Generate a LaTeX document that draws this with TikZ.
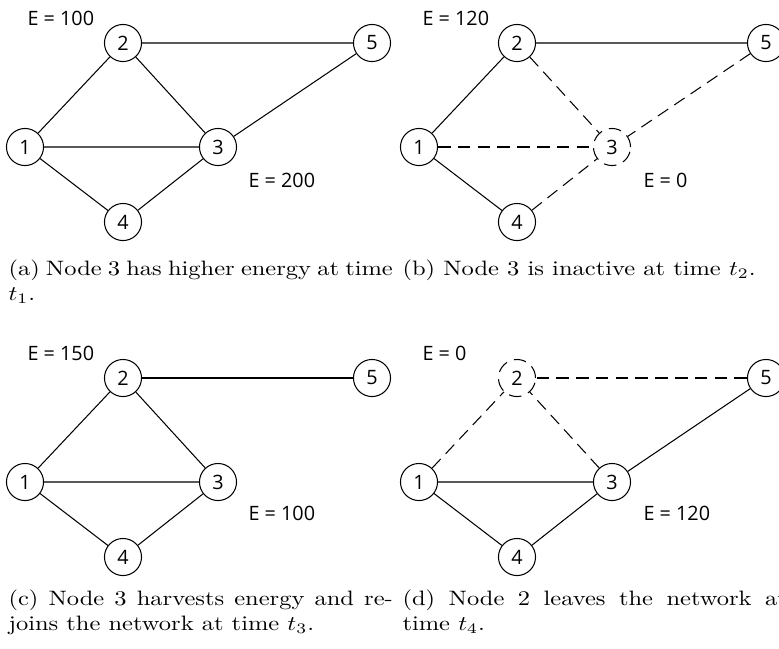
\documentclass[tikz,border=0pt]{standalone}
\usepackage{amsmath}
\usepackage{fontspec}
\usepackage{tikz}
\newfontfamily\graphfont{Open Sans}
\newcommand{\subcap}[1]{\scalebox{1.175}[1]{\parbox[t]{157pt}{#1}}}
\tikzset{
  vertex/.style={draw, circle, inner sep=0pt, minimum size=17.8pt,
    font=\graphfont\fontsize{9.5}{11}\selectfont},
  offvertex/.style={vertex, dash pattern=on 6pt off 3.5pt},
  offedge/.style={dash pattern=on 6pt off 3.5pt},
  energy/.style={anchor=west, inner sep=0pt,
    font=\graphfont\fontsize{9.5}{11}\selectfont},
  caption/.style={anchor=north west, inner sep=0pt}
}

\begin{document}
\begin{tikzpicture}[x=0.48pt,y=-0.48pt,line width=0.5pt]
  \useasboundingbox (0,0) rectangle (779,648);
  % Draw the vertices of the four panels (inactive one dashed)
  \foreach \panel/\dx/\dy/\offnode in {a/0/0/0, b/394/0/3, c/0/335/0, d/394/335/2} {
    \begin{scope}[shift={(\dx,\dy)}]
      \foreach \n/\x/\y in {1/25/147, 2/123/43, 3/218/147, 4/123/222, 5/372/43} {
        \ifnum\n=\offnode \def\vstyle{offvertex}\else \def\vstyle{vertex}\fi
        \node[\vstyle] (\panel\n) at (\x, \y) {\n}; }
    \end{scope}
  }
  % Draw links of (a)
    \draw (a1) -- (a2) -- (a3) -- (a1) -- (a4) -- (a3) -- (a5) -- (a2);
  % Draw links of (b)
    \draw (b4) -- (b1) -- (b2) -- (b5);
    \draw[offedge] (b1) -- (b3);
    \draw[offedge] (b2) -- (b3);
    \draw[offedge] (b4) -- (b3);
    \draw[offedge] (b5) -- (b3);
  % Draw links of (c)
    \draw (c1) -- (c2) -- (c3) -- (c1) -- (c4) -- (c3);
    \draw (c2) -- (c5);
  % Draw links of (d)
    \draw (d1) -- (d3) -- (d4) -- (d1);
    \draw (d3) -- (d5);
    \draw[offedge] (d1) -- (d2);
    \draw[offedge] (d3) -- (d2);
    \draw[offedge] (d5) -- (d2);
  % Energy labels
    \node[energy] (ea) at (27, 18) {E = 100};
    \node[energy] (ea3) at (248, 180) {E = 200};
    \node[energy] (eb) at (422, 18) {E = 120};
    \node[energy] (eb3) at (643, 180) {E = 0};
    \node[energy] (ec) at (27, 353) {E = 150};
    \node[energy] (ec3) at (248, 513) {E = 100};
    \node[energy] (ed) at (422, 353) {E = 0};
    \node[energy] (ed3) at (643, 513) {E = 120};
  % Sub-captions
    \node[caption] (capa) at (8, 259) {\subcap{(a) Node~3 has higher energy at time\linebreak $t_1$.}};
    \node[caption] (capb) at (402, 259) {\subcap{(b) Node 3 is inactive at time $t_2$.}};
    \node[caption] (capc) at (8, 589) {\subcap{(c) Node 3 harvests energy and re-\linebreak joins the network at time $t_3$.}};
    \node[caption] (capd) at (402, 589) {\subcap{(d) Node 2 leaves the network at\linebreak time $t_4$.}};
\end{tikzpicture}
\end{document}
